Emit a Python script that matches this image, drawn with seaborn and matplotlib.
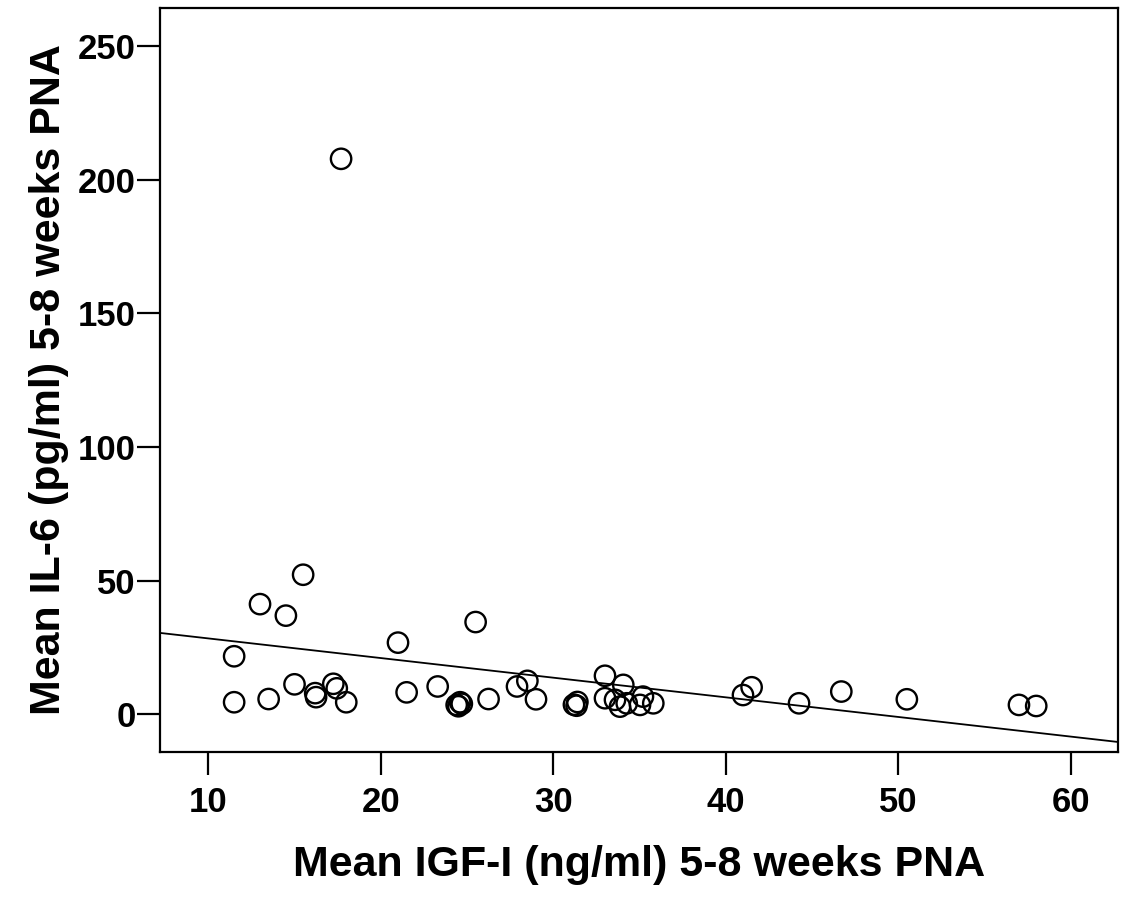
import pandas as pd
import matplotlib
matplotlib.use("Agg")
import matplotlib.pyplot as plt
import seaborn as sns

# Values
igf = [17.7, 15.5, 13.0, 14.5, 11.5, 11.5, 13.5, 15.0, 16.2, 16.25,
       17.25, 17.45, 18.0, 21.0, 21.5, 23.3, 24.4, 24.6, 24.5, 24.7,
       26.25, 25.5, 27.9, 28.5, 29.0, 31.2, 31.4, 31.35, 33.0, 34.06,
       33.0, 33.58, 33.87, 34.26, 35.03, 35.2, 35.8, 41.0, 41.5, 44.25,
       46.7, 50.5, 57.0, 58.0]
il6 = [207.8, 52.2, 41.2, 36.9, 21.7, 4.5, 5.7, 11.2, 7.9, 6.4,
       11.4, 9.7, 4.5, 26.8, 8.2, 10.4, 3.5, 4.5, 3.0, 3.9,
       5.7, 34.5, 10.4, 12.5, 5.6, 3.6, 4.6, 3.2, 14.4, 11.0,
       6.0, 5.4, 2.85, 4.1, 3.5, 6.6, 4.1, 7.2, 10.1, 4.1,
       8.5, 5.6, 3.5, 3.1]
x_ticks = [10, 20, 30, 40, 50, 60]
y_ticks = [0, 50, 100, 150, 200, 250]

df = pd.DataFrame({"IGF": igf, "IL6": il6})

sns.set_style("ticks")
plt.rcParams["font.family"] = ["Liberation Sans", "DejaVu Sans"]
plt.rcParams["font.weight"] = "bold"
plt.rcParams["text.color"] = "black"
plt.rcParams["axes.labelcolor"] = "black"
plt.rcParams["xtick.color"] = "black"
plt.rcParams["ytick.color"] = "black"

fig = plt.figure(figsize=(11.21, 8.97), dpi=100)
ax = fig.add_axes([0.1427, 0.162, 0.8546, 0.8287])
# limits first so the fit line spans the whole axis
ax.set_xlim(7.2, 62.74)
ax.set_ylim(-14.0, 264.1)

sns.regplot(x="IGF", y="IL6", data=df, ax=ax, ci=None, truncate=False,
            scatter_kws=dict(s=215, facecolors="none", edgecolors="black",
                             linewidths=1.7, alpha=1),
            line_kws=dict(color="black", linewidth=1.3))

ax.set_xlim(7.2, 62.74)
ax.set_ylim(-14.0, 264.1)
ax.set_xticks(x_ticks)
ax.set_yticks(y_ticks)
ax.tick_params(direction="out", length=16.5, width=1.6, labelsize=25,
               color="black", labelcolor="black")
ax.tick_params(axis="x", pad=8)
ax.tick_params(axis="y", pad=1)
for lab in ax.get_xticklabels() + ax.get_yticklabels():
    lab.set_fontweight("bold")
for sp in ax.spines.values():
    sp.set_linewidth(1.6)
    sp.set_color("black")

ax.set_xlabel("Mean IGF-I (ng/ml) 5-8 weeks PNA", fontsize=31,
              fontweight="bold", labelpad=19, color="black")
ax.set_ylabel("Mean IL-6 (pg/ml) 5-8 weeks PNA", fontsize=31,
              fontweight="bold", labelpad=6, color="black")

fig.savefig("out.png", dpi=100)
